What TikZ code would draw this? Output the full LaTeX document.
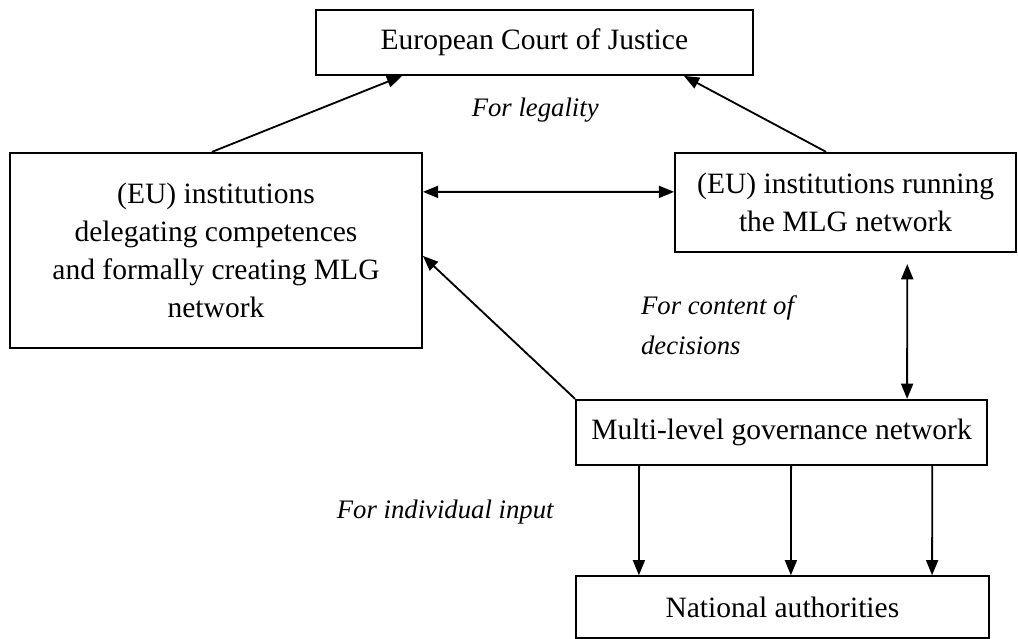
\documentclass[tikz,border=0pt]{standalone}
\usepackage{fontspec}
\setmainfont{Liberation Serif}
\usetikzlibrary{arrows.meta}

\begin{document}
\begin{tikzpicture}[
    box/.style={rectangle, draw, line width=1.3pt, align=center, inner sep=0pt, font=\fontsize{21}{27}\selectfont},
    arrow/.style={->, line width=1.3pt},
    >={Triangle[length=0.38cm, width=0.3cm]},
    label/.style={font=\fontsize{19}{28.5}\selectfont\itshape, inner sep=0pt}
]
\useasboundingbox (0,0) rectangle (25.45,-15.975);

% Hof
\node[box, minimum width=10.93cm, minimum height=1.63cm] (ecj) at (13.36,-1.06) {European Court of Justice};

% Instellingen
\node[box, minimum width=10.3cm, minimum height=4.88cm] (left) at (5.4,-6.26) {(EU) institutions\\delegating competences\\and formally creating MLG\\network};
\node[box, minimum width=8.53cm, minimum height=2.48cm] (right) at (21.14,-5.06) {(EU) institutions running\\the MLG network};

% Netwerk en nationale autoriteiten
\node[box, minimum width=10.28cm, minimum height=1.63cm] (mlg) at (19.54,-10.81) {Multi-level governance network};
\node[box, minimum width=10.33cm, minimum height=1.55cm] (nat) at (19.56,-15.18) {National authorities};

% Pijlen naar het Hof
\draw[arrow] ([xshift=-0.1cm]left.north) -- ([xshift=2.18cm]ecj.south west);
\draw[arrow] ([xshift=3.8cm]right.north west) -- ([xshift=-1.75cm]ecj.south east);

% Tussen de instellingen
\draw[arrow, <->] ([yshift=-1cm]left.north east) -- ([yshift=-1cm]right.north west);
\draw[arrow] (mlg.north west) -- ([yshift=-2.6cm]left.north east);
\draw[arrow, <->, shorten <=0.28cm] ([xshift=5.83cm]right.south west) -- ([xshift=8.3cm]mlg.north west);

% Naar nationale autoriteiten
\foreach \dx in {1.6,5.4,8.93}
  \draw[arrow] ([xshift=\dx cm]mlg.south west) -- ([xshift=\dx cm]nat.north west);

% Labels
\node[label] (legal) at (13.38,-2.75) {For legality};
\node[label, align=left, anchor=west] (content) at (16.02,-8.13) {For content of\\decisions};
\node[label] (input) at (11.13,-12.8) {For individual input};

\end{tikzpicture}
\end{document}
